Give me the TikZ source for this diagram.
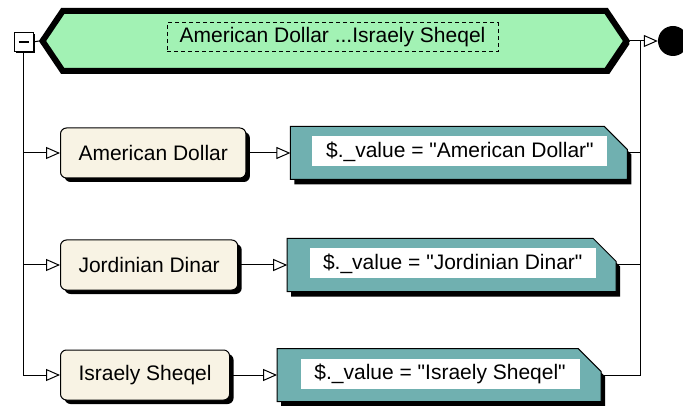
\documentclass[tikz,border=0pt]{standalone}
\usepackage{fontspec}
\setmainfont{Liberation Sans}
\newfontfamily\boxfamily{Liberation Sans}
\usepackage{tikz}
\usetikzlibrary{positioning,shapes.symbols,arrows.meta,calc,shadows}
\definecolor{cream}{HTML}{F8F3E4}
\definecolor{valteal}{HTML}{70B0B0}
\definecolor{barmint}{HTML}{A2F2B4}
\newcommand{\boxfont}{\boxfamily\fontsize{21}{24}\selectfont}

% teal action frame with cut corner, drawn round an empty node
\newcommand{\valframe}[1]{%
  \fill[black] ($(#1.north west)+(4,5)$) -- ($(#1.north east)+(-19,5)$) -- ($(#1.north east)+(4,28)$) -- ($(#1.south east)+(4,5)$) -- ($(#1.south west)+(4,5)$) -- cycle;
  \draw[fill=valteal, line width=1pt] (#1.north west) -- ($(#1.north east)+(-23,0)$) -- ($(#1.north east)+(0,23)$) -- (#1.south east) -- (#1.south west) -- cycle;
}

\tikzset{
  wire/.style={line width=1pt},
  flow/.style={wire, -{Triangle[open, length=14pt, width=12pt]}},
  curbox/.style={draw, fill=cream, rounded corners=6pt, line width=1pt, minimum height=50pt, inner xsep=18pt, font=\boxfont,
    drop shadow={shadow xshift=4pt, shadow yshift=-4pt, fill=black, opacity=1}},
  valbox/.style={minimum height=53pt, inner sep=0pt, outer sep=0pt},
  valtext/.style={fill=white, inner sep=0pt, minimum height=30pt, font=\boxfont},
}

\begin{document}
\begin{tikzpicture}[x=1pt, y=-1pt]
\useasboundingbox (0,0) rectangle (683,406);

% Top choice bar
\node[signal, signal to=west and east, signal pointer angle=112, draw, fill=barmint, line width=6pt,
      minimum width=584pt, minimum height=60pt,
      drop shadow={shadow xshift=3pt, shadow yshift=-3pt, fill=black, opacity=1}] (bar) at (334.5,41) {};
\node[draw, dashed, dash pattern=on 4pt off 3pt, line width=1pt, minimum width=331pt, minimum height=29pt,
      inner sep=0pt, font=\boxfont] (title) at (332.5,37.5) {American Dollar ...Israely Sheqel};

% Fold box and end dot
\node[draw, fill=white, line width=1pt, minimum size=19pt, inner sep=0pt,
      drop shadow={shadow xshift=2pt, shadow yshift=-2pt, fill=black, opacity=1},
      path picture={\draw[line width=1.6pt] ([xshift=-5pt]path picture bounding box.center) -- ([xshift=5pt]path picture bounding box.center);}] (fold) at (23.5,42) {};
\node[circle, fill=black, minimum size=30pt, inner sep=0pt] (stop) at (673,41) {};
\coordinate (rail) at (640,41);

% Branches
\foreach \i/\y/\cur/\gap/\vw/\tw in {1/153/American Dollar/44/337/295, 2/265/Jordinian Dinar/49/329/286, 3/375/Israely Sheqel/47/324/279} {
    \node[curbox, anchor=west] (l\i) at (60,\y) {\cur};
    \node[valbox, minimum width=\vw pt, right=\gap pt of l\i] (v\i) {};
    \valframe{v\i}
    \node[valtext, minimum width=\tw pt] (t\i) at ($(v\i.center)+(1,-1.5)$) {\$.\_value = "\cur"};
    \draw[flow] (l\i) -- (v\i);
}

% Left rail
\draw[wire] (fold.east) -- (bar.west);
\draw[flow] (fold.south) |- (l3.west);
\draw[flow] (fold.south |- l1.west) -- (l1.west);
\draw[flow] (fold.south |- l2.west) -- (l2.west);

% Right rail
\draw[wire] (bar.east) -- (rail) -- (rail |- v3.east) -- (v3.east);
\draw[wire] (v1.east) -- (rail |- v1.east);
\draw[wire] (v2.east) -- (rail |- v2.east);
\draw[flow] (rail) -- (stop);

\end{tikzpicture}
\end{document}
